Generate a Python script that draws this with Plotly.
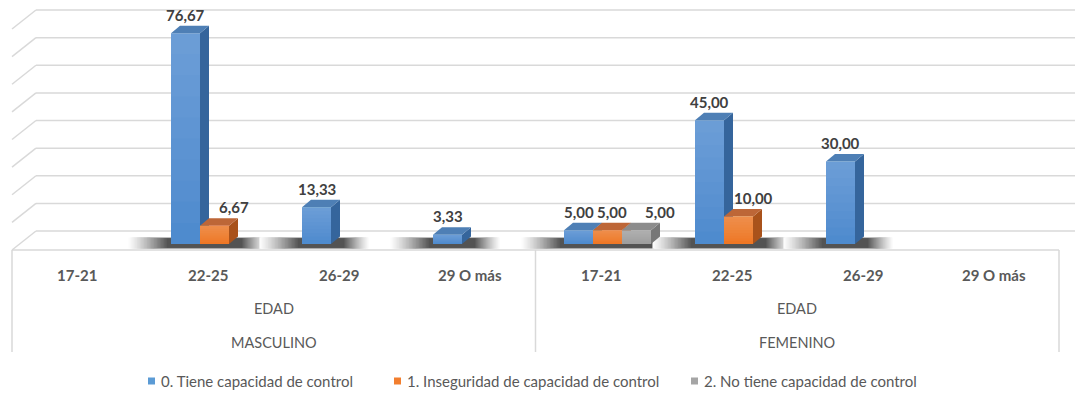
import plotly.graph_objects as go

# ---------------------------------------------------------------- data
genders = ["MASCULINO", "FEMENINO"]
ages = ["17-21", "22-25", "26-29", "29 O más"]
group_title = "EDAD"
series_names = [
    "0. Tiene capacidad de control",
    "1. Inseguridad de capacidad de control",
    "2. No tiene capacidad de control",
]
# one value per (gender, age) slot, masculino first; None = no bar
tiene = [None, 76.67, 13.33, 3.33, 5.00, 45.00, 30.00, None]
inseguridad = [None, 6.67, None, None, 5.00, 10.00, None, None]
no_tiene = [None, None, None, None, 5.00, None, None, None]
wall_ticks = [0, 10, 20, 30, 40, 50, 60, 70, 80]

# ---------------------------------------------------------------- styling
W, H = 1075, 406
FONT = "Lato"
front_colors = ["#4a89cd", "#ee7420", "#9c9c9c"]
legend_colors = ["#5b9bd5", "#f27e2e", "#a5a5a5"]
top_colors = ["#4e7fb5", "#bd6637", "#8c8c8c"]
side_colors = ["#35659c", "#a9521b", "#777777"]
label_nudge = {(1, 1): 19, (1, 4): 4, (2, 4): 23, (1, 5): 15}  # px, (series, slot)

BAR_L, BAR_R = 18, 1066          # pixel span of the bar category axis
BASE_PX, K = 244, 2.75           # bar floor pixel row, px per unit
WALL_BASE_PX, KW = 231, 2.7625   # back wall floor row, px per unit
BAR_PX = 29                      # bar width
DX, DY = 9, 7.5                  # depth offset of the 3-D faces
BOX_L, BOX_R, BOX_TOP, BOX_BOT = 12, 1059, 250, 352
GRID_COLOR = "#d9d9d9"
SHADOW_STEPS = 28

series = [tiene, inseguridad, no_tiene]
n_slots = len(genders) * len(ages)
slot_px = (BAR_R - BAR_L) / n_slots
bargap = 1 - 3 * BAR_PX / slot_px
bw = (1 - bargap) / 3
dxu, dyu = DX / slot_px, DY / K


def px(x):
    return x / W


def py(y):
    return 1 - y / H


def shadow_grey(t, dark=40, strength=0.8):
    cover = strength * t ** 1.2
    g = round(255 * (1 - cover) + dark * cover)
    return f"rgb({g},{g},{g})"


fig = go.Figure()
for k, (name, vals) in enumerate(zip(series_names, series)):
    fig.add_trace(go.Bar(
        x=list(range(n_slots)), y=vals, name=name,
        marker=dict(color=front_colors[k], line=dict(width=0)),
        showlegend=False, hoverinfo="skip",
    ))

shapes = []

# back wall gridlines with their receding left edge
for v in wall_ticks:
    shapes.append(dict(type="line", xref="paper", yref="y2", x0=px(36), x1=1,
                       y0=v, y1=v, line=dict(color=GRID_COLOR, width=1.5),
                       layer="below"))
    shapes.append(dict(type="line", xref="paper", yref="y2", x0=px(36), x1=px(BOX_L),
                       y0=v, y1=v - 19 / KW, line=dict(color=GRID_COLOR, width=1.5),
                       layer="below"))

# category box under the floor
for x0, y0, x1, y1 in [(BOX_L, BOX_TOP, BOX_R, BOX_TOP),
                       (BOX_L, BOX_TOP, BOX_L, BOX_BOT),
                       ((BOX_L + BOX_R) / 2, BOX_TOP, (BOX_L + BOX_R) / 2, BOX_BOT),
                       (BOX_R, BOX_TOP, BOX_R, BOX_BOT)]:
    shapes.append(dict(type="line", xref="paper", yref="paper",
                       x0=px(x0), y0=py(y0), x1=px(x1), y1=py(y1),
                       line=dict(color=GRID_COLOR, width=1.5), layer="below"))

# soft floor shadows behind every cluster that has bars (outer = lightest)
for i in range(n_slots):
    present = [k for k in range(3) if series[k][i]]
    if not present:
        continue
    left = i + (present[0] - 1) * bw - bw / 2
    right = i + (present[-1] - 1) * bw + bw / 2 + dxu
    for j in range(SHADOW_STEPS):
        t = (j + 1) / SHADOW_STEPS
        shapes.append(dict(
            type="rect", xref="x", yref="y",
            x0=left - (44 - 40 * t) / slot_px, x1=right + (30 - 26 * t) / slot_px,
            y0=-(4.8 - 1.0 * t) / K, y1=(6.8 - 1.2 * t) / K,
            fillcolor=shadow_grey(t), line=dict(width=0), layer="below"))

# side and top faces of each bar
for i in range(n_slots):
    for k in range(3):
        v = series[k][i]
        if not v:
            continue
        c = i + (k - 1) * bw
        l, r = c - bw / 2, c + bw / 2
        side = f"M{r},0 L{r},{v} L{r + dxu},{v + dyu} L{r + dxu},{dyu} Z"
        top = f"M{l},{v} L{r},{v} L{r + dxu},{v + dyu} L{l + dxu},{v + dyu} Z"
        shapes.append(dict(type="path", xref="x", yref="y", path=side,
                           fillcolor=side_colors[k], line=dict(width=0), layer="below"))
        shapes.append(dict(type="path", xref="x", yref="y", path=top,
                           fillcolor=top_colors[k], line=dict(width=0), layer="below"))
        # light wash on the front face, strongest at the top
        for j in range(10):
            y0 = v * j / 10
            shapes.append(dict(type="path", xref="x", yref="y",
                               path=f"M{l},{y0} L{r},{y0} L{r},{v} L{l},{v} Z",
                               fillcolor="rgba(255,255,255,0.022)",
                               line=dict(width=0), layer="above"))

annotations = []

# value labels
for k in range(3):
    for i, v in enumerate(series[k]):
        if not v:
            continue
        annotations.append(dict(
            xref="x", yref="y", x=i + (k - 1) * bw, y=v,
            text=f"{v:.2f}".replace(".", ","), showarrow=False,
            yanchor="middle", yshift=18.5, xshift=label_nudge.get((k, i), 0),
            font=dict(family=FONT, size=15, color="#404040", weight="bold")))

# category labels: age, group title, gender
box_slot = (BOX_R - BOX_L) / n_slots
for g, gender in enumerate(genders):
    for a, age in enumerate(ages):
        idx = g * len(ages) + a
        annotations.append(dict(
            xref="paper", yref="paper", x=px(BOX_L + box_slot * (idx + 0.5)), y=py(274.5),
            text=age, showarrow=False, xanchor="center", yanchor="middle",
            font=dict(family=FONT, size=15, color="#595959", weight="bold")))
    gx = px(BOX_L + box_slot * len(ages) * (g + 0.5))
    annotations.append(dict(xref="paper", yref="paper", x=gx, y=py(308), text=group_title,
                            showarrow=False, xanchor="center", yanchor="middle",
                            font=dict(family=FONT, size=14.5, color="#595959")))
    annotations.append(dict(xref="paper", yref="paper", x=gx, y=py(342), text=gender,
                            showarrow=False, xanchor="center", yanchor="middle",
                            font=dict(family=FONT, size=14.5, color="#595959")))

# legend row
legend_x = [148, 394, 691]
for k, name in enumerate(series_names):
    x0 = legend_x[k]
    shapes.append(dict(type="rect", xref="paper", yref="paper",
                       x0=px(x0), x1=px(x0 + 7), y0=py(377.5), y1=py(384.5),
                       fillcolor=legend_colors[k], line=dict(width=0)))
    annotations.append(dict(xref="paper", yref="paper", x=px(x0 + 11), y=py(381),
                            text=name, showarrow=False, xanchor="left", yanchor="middle",
                            font=dict(family=FONT, size=15, color="#595959")))

r1 = BASE_PX / K
r1w = WALL_BASE_PX / KW
fig.update_layout(
    width=W, height=H, margin=dict(l=0, r=0, t=0, b=0),
    paper_bgcolor="white", plot_bgcolor="rgba(0,0,0,0)",
    barmode="group", bargap=bargap, bargroupgap=0,
    xaxis=dict(domain=[px(BAR_L), px(BAR_R)], range=[-0.5, n_slots - 0.5],
               visible=False, fixedrange=True),
    yaxis=dict(domain=[0, 1], range=[r1 - H / K, r1], visible=False, fixedrange=True),
    yaxis2=dict(overlaying="y", range=[r1w - H / KW, r1w], visible=False, fixedrange=True),
    shapes=shapes, annotations=annotations, showlegend=False,
)

fig.write_html("out.html")
